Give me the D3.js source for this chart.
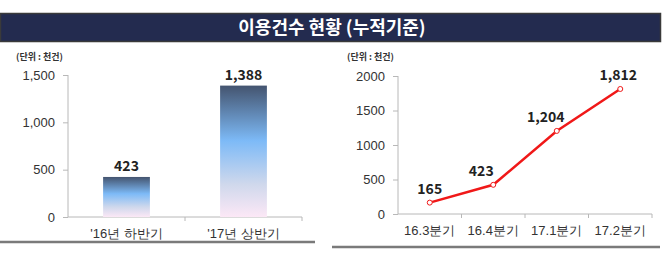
<!DOCTYPE html>
<html>
<head>
<meta charset="utf-8">
<script src="https://cdn.jsdelivr.net/npm/d3@7"></script>
<style>
  body { margin: 0; background: #fff; }
  svg { display: block; font-family: "Noto Sans CJK KR", "Noto Sans", sans-serif; }
  .axis path, .axis line { stroke: #b8b8b8; }
  .axis text { fill: #333; font-size: 13px; }
</style>
</head>
<body>
<div id="chart"></div>
<script>
var title = "이용건수 현황 (누적기준)";
var unitLabel = "(단위 : 천건)";

var halfCats = ["'16년 하반기", "'17년 상반기"];
var halfVals = [423, 1388];
var halfTicks = [0, 500, 1000, 1500];

var qCats = ["16.3분기", "16.4분기", "17.1분기", "17.2분기"];
var qVals = [165, 423, 1204, 1812];
var qTicks = [0, 500, 1000, 1500, 2000];
var qLabelDx = [0, -12, -11, -2];

var W = 665, H = 264;
var svg = d3.select("#chart").append("svg")
  .attr("width", W).attr("height", H);

var defs = svg.append("defs");
var grad = defs.append("linearGradient")
  .attr("id", "barGrad").attr("x1", 0).attr("y1", 0).attr("x2", 0).attr("y2", 1);
grad.append("stop").attr("offset", "0%").attr("stop-color", "#44546f");
grad.append("stop").attr("offset", "42%").attr("stop-color", "#7dbaf7");
grad.append("stop").attr("offset", "75%").attr("stop-color", "#cfd8ec");
grad.append("stop").attr("offset", "100%").attr("stop-color", "#fce8f6");

// title bar
svg.append("rect")
  .attr("x", 0.5).attr("y", 13.5).attr("width", 660).attr("height", 28)
  .attr("fill", "#232b4f").attr("stroke", "#3a3a3a").attr("stroke-width", 1.5);
svg.append("text")
  .attr("x", 332).attr("y", 34)
  .attr("text-anchor", "middle")
  .attr("fill", "#fff").attr("font-size", 18).attr("font-weight", "bold")
  .text(title);

// bottom frame lines
svg.append("line").attr("x1", 0).attr("x2", 315).attr("y1", 242).attr("y2", 242)
  .attr("stroke", "#7a7a7a").attr("stroke-width", 2.5);
svg.append("line").attr("x1", 332).attr("x2", 660).attr("y1", 247).attr("y2", 247)
  .attr("stroke", "#7a7a7a").attr("stroke-width", 2.5);

// ---- left chart ----
var xL = d3.scaleBand().domain(halfCats).range([68, 302]).padding(0);
var yL = d3.scaleLinear().domain([0, 1500]).range([217, 75]);

svg.append("text").attr("x", 16).attr("y", 60)
  .attr("font-size", 9).attr("font-weight", "bold").attr("fill", "#333")
  .text(unitLabel);

var gyL = svg.append("g").attr("class", "axis")
  .attr("transform", "translate(68,0)")
  .call(d3.axisLeft(yL).tickValues(halfTicks).tickSize(5).tickPadding(8)
    .tickFormat(d3.format(",")));
gyL.select(".domain").attr("d", "M0," + yL(1500) + "V" + yL(0));

var gxL = svg.append("g").attr("class", "axis")
  .attr("transform", "translate(0,217)")
  .call(d3.axisBottom(xL).tickSize(0).tickPadding(12));
gxL.select(".domain").attr("d", "M68,0H302");
gxL.selectAll(".sep").data([xL.range()[0] + xL.step(), 302]).enter()
  .append("line").attr("x1", d => d).attr("x2", d => d).attr("y1", 0).attr("y2", 4);

var bw = xL.bandwidth() * 0.4;
svg.selectAll(".bar").data(halfVals).enter().append("rect")
  .attr("x", (d, i) => xL(halfCats[i]) + (xL.bandwidth() - bw) / 2)
  .attr("y", d => yL(d))
  .attr("width", bw)
  .attr("height", d => yL(0) - yL(d))
  .attr("fill", "url(#barGrad)");

svg.selectAll(".barlab").data(halfVals).enter().append("text")
  .attr("x", (d, i) => xL(halfCats[i]) + xL.bandwidth() / 2)
  .attr("y", d => yL(d) - 6)
  .attr("text-anchor", "middle")
  .attr("font-size", 14).attr("font-weight", "bold").attr("fill", "#222")
  .text(d => d3.format(",")(d));

// ---- right chart ----
var xR = d3.scaleBand().domain(qCats).range([398, 652]).padding(0);
var yR = d3.scaleLinear().domain([0, 2000]).range([214, 76]);

svg.append("text").attr("x", 347).attr("y", 60)
  .attr("font-size", 9).attr("font-weight", "bold").attr("fill", "#333")
  .text(unitLabel);

var gyR = svg.append("g").attr("class", "axis")
  .attr("transform", "translate(398,0)")
  .call(d3.axisLeft(yR).tickValues(qTicks).tickSize(5).tickPadding(8)
    .tickFormat(d3.format("d")));
gyR.select(".domain").attr("d", "M0," + yR(2000) + "V" + yR(0));

var gxR = svg.append("g").attr("class", "axis")
  .attr("transform", "translate(0,214)")
  .call(d3.axisBottom(xR).tickSize(0).tickPadding(12));
gxR.select(".domain").attr("d", "M398,0H652");
gxR.selectAll(".sep").data(qCats.map((c, i) => xR(c) + xR.step())).enter()
  .append("line").attr("x1", d => d).attr("x2", d => d).attr("y1", 0).attr("y2", 4);

var line = d3.line()
  .x((d, i) => xR(qCats[i]) + xR.bandwidth() / 2)
  .y(d => yR(d));
svg.append("path").datum(qVals)
  .attr("d", line)
  .attr("fill", "none").attr("stroke", "#f01818").attr("stroke-width", 2.5);

svg.selectAll(".pt").data(qVals).enter().append("circle")
  .attr("cx", (d, i) => xR(qCats[i]) + xR.bandwidth() / 2)
  .attr("cy", d => yR(d))
  .attr("r", 2.5)
  .attr("fill", "#fff").attr("stroke", "#f01818").attr("stroke-width", 1);

svg.selectAll(".ptlab").data(qVals).enter().append("text")
  .attr("x", (d, i) => xR(qCats[i]) + xR.bandwidth() / 2 + qLabelDx[i])
  .attr("y", d => yR(d) - 9)
  .attr("text-anchor", "middle")
  .attr("font-size", 14).attr("font-weight", "bold").attr("fill", "#222")
  .text(d => d3.format(",")(d));
</script>
</body>
</html>
